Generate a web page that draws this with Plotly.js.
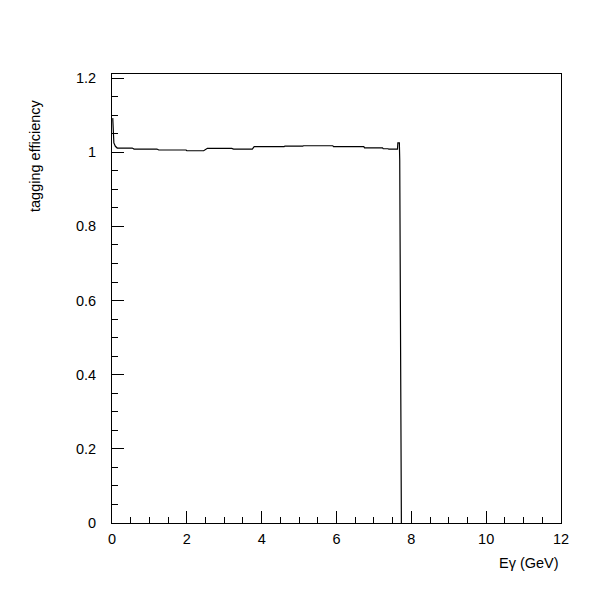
<!DOCTYPE html>
<html>
<head>
<meta charset="utf-8">
<script src="https://cdn.plot.ly/plotly-3.0.1.min.js"></script>
<style>html,body{margin:0;padding:0;background:#fff;}#chart{width:600px;height:600px;}</style>
</head>
<body>
<div id="chart"></div>
<script>
const energy = [0.02, 0.03, 0.05, 0.09, 0.14, 0.54, 0.59, 1.2, 1.25, 1.98, 2.0, 2.45, 2.5, 2.55, 3.2, 3.25, 3.75, 3.8, 4.6, 4.62, 5.1, 5.12, 5.9, 5.92, 6.73, 6.75, 7.23, 7.25, 7.37, 7.4, 7.63, 7.64, 7.68, 7.69, 7.734];
const efficiency = [1.092, 1.046, 1.025, 1.016, 1.0113, 1.0113, 1.0086, 1.0086, 1.006, 1.006, 1.004, 1.004, 1.0086, 1.0105, 1.0105, 1.0086, 1.0086, 1.015, 1.015, 1.0167, 1.0167, 1.0175, 1.0175, 1.015, 1.015, 1.012, 1.012, 1.0094, 1.0094, 1.0086, 1.0086, 1.025, 1.025, 0.98, 0];
const xTitle = 'Eγ (GeV)';
const yTitle = 'tagging efficiency';

const font = {family: 'Liberation Sans, Arial, sans-serif', size: 14.5, color: '#000'};
const trace = {
  x: energy, y: efficiency, type: 'scatter', mode: 'lines',
  line: {color: '#000', width: 1.2}, hoverinfo: 'skip', cliponaxis: true
};
const layout = {
  width: 600, height: 600,
  margin: {l: 112, r: 39, t: 74, b: 77},
  paper_bgcolor: '#fff', plot_bgcolor: '#fff',
  showlegend: false,
  font: font,
  xaxis: {
    range: [0, 12], dtick: 2, tick0: 0,
    ticks: 'inside', ticklen: 12, tickwidth: 1, tickcolor: '#000',
    minor: {dtick: 0.5, ticks: 'inside', ticklen: 6, tickwidth: 1, tickcolor: '#000', showgrid: false},
    showline: true, linecolor: '#000', linewidth: 1, mirror: true,
    showgrid: false, zeroline: false,
    tickfont: font, ticklabelstandoff: 3
  },
  yaxis: {
    range: [0, 1.211], dtick: 0.2, tick0: 0,
    ticks: 'inside', ticklen: 12, tickwidth: 1, tickcolor: '#000',
    minor: {dtick: 0.05, ticks: 'inside', ticklen: 6, tickwidth: 1, tickcolor: '#000', showgrid: false},
    showline: true, linecolor: '#000', linewidth: 1, mirror: true,
    showgrid: false, zeroline: false,
    tickfont: font, ticklabelstandoff: 12
  },
  annotations: [
    {text: xTitle, xref: 'paper', yref: 'paper', x: 1, y: 0, xanchor: 'right', yanchor: 'top',
     yshift: -30, showarrow: false, font: font},
    {text: yTitle, xref: 'paper', yref: 'paper', x: 0, y: 1, xanchor: 'center', yanchor: 'middle',
     xshift: -77, yshift: -82, textangle: -90, showarrow: false, font: font}
  ]
};
Plotly.newPlot('chart', [trace], layout, {displayModeBar: false, staticPlot: true});
</script>
</body>
</html>
